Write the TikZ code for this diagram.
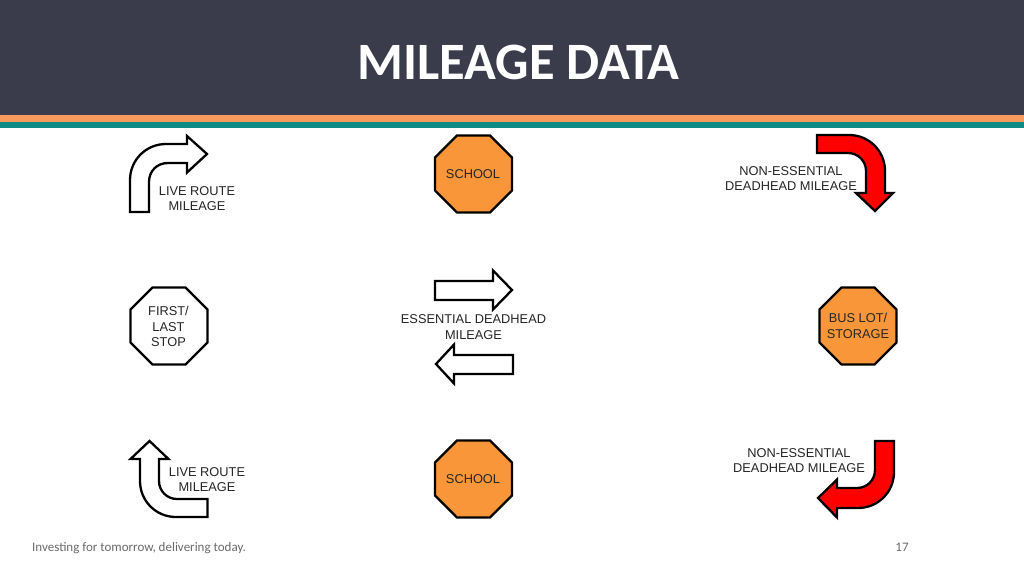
\documentclass[tikz,border=0pt]{standalone}
\usepackage{fontspec}
\setmainfont{Liberation Sans}
\newfontfamily\calib{Carlito}
\definecolor{hdr}{HTML}{3A3C4C}
\definecolor{orbar}{HTML}{F79A5E}
\definecolor{teal2}{HTML}{0F8A85}
\definecolor{octo}{HTML}{F9963A}
\definecolor{redarrow}{HTML}{FF0000}
\definecolor{foot}{HTML}{6B6B6B}
\tikzset{
  x=1pt,y=-1pt,
  whitearrow/.style={draw=black,fill=white,line width=2.3pt,line join=miter},
  redshape/.style={draw=black,fill=redarrow,line width=2.3pt,line join=miter},
  octwhite/.style={draw=black,fill=white,line width=2.2pt},
  octorange/.style={draw=black,fill=octo,line width=2.2pt},
  lbl/.style={align=center,font=\fontsize{12.8}{15.4}\selectfont,text=black!85,inner sep=0pt},
  foottxt/.style={font=\calib\fontsize{13}{15}\selectfont,text=foot,inner sep=0pt},
}
\newcommand{\octag}[3]{%
  \draw[#3] (#1-16.5,#2-38.5) -- (#1+16.5,#2-38.5) -- (#1+38.5,#2-16.5) -- (#1+38.5,#2+16.5) -- (#1+16.5,#2+38.5) -- (#1-16.5,#2+38.5) -- (#1-38.5,#2+16.5) -- (#1-38.5,#2-16.5) -- cycle;}
\begin{document}
\begin{tikzpicture}
\useasboundingbox (0,0) rectangle (1024,576);
\fill[white] (0,0) rectangle (1024,576);
\fill[hdr] (0,0) rectangle (1024,115);
\fill[orbar] (0,115) rectangle (1024,122);
\fill[teal2] (0,122) rectangle (1024,128);
\node[font=\calib\bfseries\fontsize{52.5}{55}\selectfont,text=white,inner sep=0pt] (title) at (518.5,62.5) {MILEAGE DATA};

% bent white arrows
\draw[whitearrow] (130,212) -- (130,180) .. controls (130,160) and (146,144) .. (166,144) -- (187,144) -- (187,136) -- (207,154) -- (187,172.5) -- (187,163) -- (168,163) .. controls (157,163) and (149,171) .. (149,182) -- (149,212) -- cycle;
\draw[whitearrow] (207.5,517) -- (176,517) .. controls (156,517) and (140,501) .. (140,481) -- (140,459) -- (130.5,459) -- (149.5,441) -- (168.5,459) -- (159,459) -- (159,481) .. controls (159,491) and (167,499) .. (177,499) -- (207.5,499) -- cycle;

% bent red arrows
\draw[redshape] (817,135) -- (849,135) .. controls (869,135) and (885,151) .. (885,171) -- (885,193) -- (893,193) -- (875,211) -- (856,193) -- (866,193) -- (866,171) .. controls (866,161) and (858,153) .. (848,153) -- (817,153) -- cycle;
\draw[redshape] (894,441) -- (894,472) .. controls (894,492) and (878,508) .. (858,508) -- (837,508) -- (837,517.5) -- (818,498) -- (837,479.5) -- (837,488) -- (857,488) .. controls (867,488) and (875,480) .. (875,470) -- (875,441) -- cycle;

% straight arrows
\draw[whitearrow] (435,281) -- (493,281) -- (493,270.5) -- (512,290) -- (493,309.5) -- (493,300) -- (435,300) -- cycle;
\draw[whitearrow] (513,355) -- (454,355) -- (454,344.5) -- (436,364) -- (454,383.5) -- (454,374) -- (513,374) -- cycle;

% octagons
\octag{473.5}{174}{octorange}
\octag{169}{326}{octwhite}
\octag{858}{326}{octorange}
\octag{473.5}{479}{octorange}

% labels
\node[lbl] (l1) at (197,198.5) {LIVE ROUTE\\MILEAGE};
\node[lbl] (s1) at (473,174) {SCHOOL};
\node[lbl] (n1) at (791,178.5) {NON-ESSENTIAL\\DEADHEAD MILEAGE};
\node[lbl] (f1) at (168.5,326.5) {FIRST/\\LAST\\STOP};
\node[lbl] (e1) at (473.5,327) {ESSENTIAL DEADHEAD\\MILEAGE};
\node[lbl] (b1) at (858,326) {BUS LOT/\\STORAGE};
\node[lbl] (l2) at (207,479.5) {LIVE ROUTE\\MILEAGE};
\node[lbl] (s2) at (473,479.5) {SCHOOL};
\node[lbl] (n2) at (799,460.5) {NON-ESSENTIAL\\DEADHEAD MILEAGE};

\node[foottxt,anchor=west] (ft) at (32,548) {Investing for tomorrow, delivering today.};
\node[foottxt] (pg) at (902,547) {17};
\end{tikzpicture}
\end{document}
